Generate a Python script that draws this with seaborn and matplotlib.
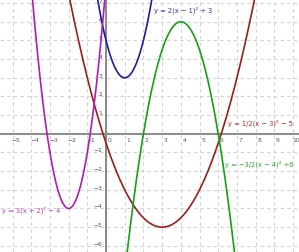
import numpy as np
import pandas as pd
import matplotlib
matplotlib.use("Agg")
import matplotlib.pyplot as plt
import matplotlib.transforms as mtransforms
import seaborn as sns

# Parabolas y = a (x - h)^2 + k, as given in the chart's labels
names = ["blue", "red", "green", "magenta"]
a_vals = [2.0, 0.5, -1.5, 3.0]
h_vals = [1.0, 3.0, 4.0, -2.0]
k_vals = [3.0, -5.0, 6.0, -4.0]
labels = ["y = 2(x \u2212 1)\u00b2 + 3",
          "y = 1/2(x \u2212 3)\u00b2 \u2212 5",
          "y = \u22123/2(x \u2212 4)\u00b2 +6",
          "y = 3(x + 2)\u00b2 \u2212 4"]
label_pos = [(2.55, 6.67), (6.5, 0.61), (6.38, -1.58), (-5.58, -4.03)]
line_colors = ["#1c1ca6", "#9c1c1c", "#14a014", "#b01cb0"]
text_colors = ["#3535aa", "#ad2e2e", "#2ea82e", "#c03ac0"]

x_ticks = list(range(-5, 11))
y_ticks = [-6, -5, -4, -3, -2, -1, 1, 2, 3, 4, 5, 6, 7]

xlim = (-5.67, 10.32)
ylim = (-6.33, 7.22)

sns.set_style("white")
plt.rcParams['font.family'] = ['DejaVu Sans']

fig = plt.figure(figsize=(2.99, 2.53), dpi=100)
ax = fig.add_axes([0, 0, 1, 1])

xs = np.linspace(xlim[0], xlim[1], 800)
rows = []
for n, a, h, k in zip(names, a_vals, h_vals, k_vals):
    for xv in xs:
        rows.append((n, xv, a * (xv - h) ** 2 + k))
df = pd.DataFrame(rows, columns=["curve", "x", "y"])

# grid
for xv in range(-6, 12):
    ax.axvline(xv, color="#d2d2d2", lw=0.8, ls=(0, (3, 3)), zorder=0)
for yv in range(-7, 9):
    ax.axhline(yv, color="#d2d2d2", lw=0.8, ls=(0, (3, 3)), zorder=0)

sns.lineplot(data=df, x="x", y="y", hue="curve", palette=dict(zip(names, line_colors)),
             estimator=None, sort=False, lw=1.2, legend=False, ax=ax, zorder=3)

ax.set_xlim(*xlim)
ax.set_ylim(*ylim)

# axes through origin
for s in ["top", "right"]:
    ax.spines[s].set_visible(False)
ax.spines["left"].set_position(("data", 0))
ax.spines["bottom"].set_position(("data", 0))
for s in ["left", "bottom"]:
    ax.spines[s].set_color("#8a8a8a")
    ax.spines[s].set_linewidth(1.4)
    ax.spines[s].set_zorder(2)

ax.set_xticks(x_ticks)
ax.set_xticklabels([f"{v}".replace("-", "\u2212") for v in x_ticks])
ax.set_yticks(y_ticks)
ax.set_yticklabels([f"{v}".replace("-", "\u2212") for v in y_ticks])
ax.tick_params(axis="both", direction="inout", length=3, width=0.7, color="#666666",
               labelsize=4.3, labelcolor="#555555", pad=1)
ax.set_xlabel("")
ax.set_ylabel("")

dx = mtransforms.ScaledTranslation(0.035, 0, fig.dpi_scale_trans)
for lab in ax.get_xticklabels():
    lab.set_transform(lab.get_transform() + dx)
dy = mtransforms.ScaledTranslation(0, 0.03, fig.dpi_scale_trans)
for lab in ax.get_yticklabels():
    lab.set_transform(lab.get_transform() + dy)

for txt, (tx, ty), c in zip(labels, label_pos, text_colors):
    ax.text(tx, ty, txt, color=c, fontsize=4.9, ha="left", va="center", zorder=5)

fig.savefig("out.png", dpi=100)
